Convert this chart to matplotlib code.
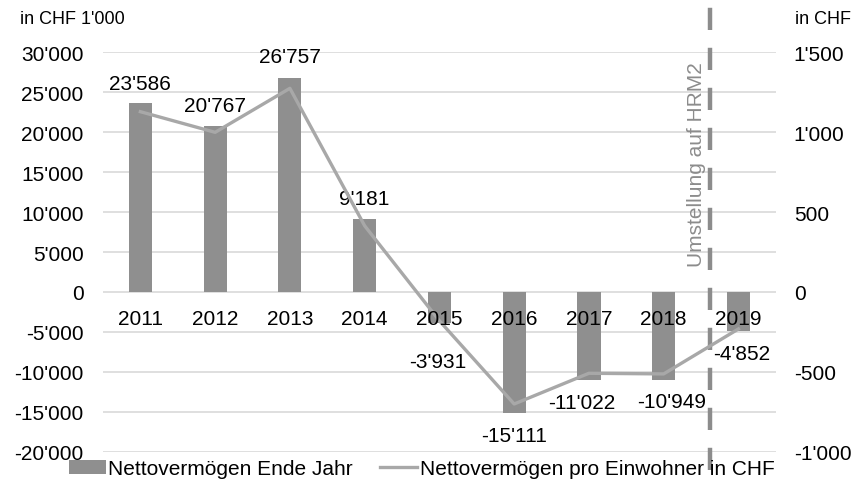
import matplotlib
matplotlib.use("Agg")
import matplotlib.pyplot as plt
import numpy as np

years = ["2011", "2012", "2013", "2014", "2015", "2016", "2017", "2018", "2019"]
vermoegen = [23586, 20767, 26757, 9181, -3931, -15111, -11022, -10949, -4852]
labels = ["23'586", "20'767", "26'757", "9'181", "-3'931", "-15'111", "-11'022", "-10'949", "-4'852"]
pro_einwohner = [1127, 998, 1273, 414, -180, -700, -508, -512, -231]
left_ticks = [-20000, -15000, -10000, -5000, 0, 5000, 10000, 15000, 20000, 25000, 30000]
left_ticklabels = ["-20'000", "-15'000", "-10'000", "-5'000", "0", "5'000", "10'000", "15'000", "20'000", "25'000", "30'000"]
right_ticks = [-1000, -500, 0, 500, 1000, 1500]
right_ticklabels = ["-1'000", "-500", "0", "500", "1'000", "1'500"]

plt.rcParams['font.family'] = ['Liberation Sans', 'DejaVu Sans']
FS = 15
BAR = '#8f8f8f'
LINE = '#a8a8a8'
GRID = '#d9d9d9'

fig = plt.figure(figsize=(8.62, 4.85), dpi=100)
ax = fig.add_axes([0.1195, 0.066, 0.7805, 0.8247])
x = np.arange(len(years))
bars = ax.bar(x, vermoegen, width=0.31, color=BAR, zorder=2, label='Nettovermögen Ende Jahr')
ax.set_xlim(-0.5, len(years) - 0.5)
ax.set_ylim(-20000, 30000)
ax.set_yticks(left_ticks)
ax.set_yticklabels(left_ticklabels, fontsize=FS)
ax.tick_params(axis='y', length=0, pad=14)
ax.grid(axis='y', color=GRID, linewidth=1.2, zorder=0)
ax.set_axisbelow(True)
for s in ax.spines.values():
    s.set_visible(False)
ax.set_xticks([])

ax2 = ax.twinx()
ax2.set_ylim(-1000, 1500)
ax2.set_yticks(right_ticks)
ax2.set_yticklabels(right_ticklabels, fontsize=FS)
ax2.tick_params(axis='y', length=0, pad=13)
ax2.set_xticks([])
for s in ax2.spines.values():
    s.set_visible(False)
line, = ax2.plot(x, pro_einwohner, color=LINE, linewidth=2.4, zorder=3,
                 label='Nettovermögen pro Einwohner in CHF')

# category labels at the zero line
for i, yr in enumerate(years):
    ax2.annotate(yr, (i, 0), xytext=(0, -27 * 0.72), textcoords='offset points',
                 ha='center', va='center', fontsize=FS, zorder=6)

# data labels (pixel offsets)
offsets = {0: (0, 20), 1: (0, 20), 2: (0, 21), 3: (0, 20),
           4: (-2, -38), 5: (0, -23), 6: (-7, -22), 7: (8, -22), 8: (3, -23)}
for i, (v, lab) in enumerate(zip(vermoegen, labels)):
    dx, dy = offsets[i]
    ax.annotate(lab, (i, v), xytext=(dx * 0.72, dy * 0.72), textcoords='offset points',
                ha='center', va='center', fontsize=FS, zorder=5)

# transition line
xd = 7.615
ax.plot([xd, xd], [-22200, 36500], color='#8c8c8c', linewidth=3.2,
        linestyle=(0, (5, 4)), clip_on=False, zorder=4)
ax.text(xd - 0.05, 16000, 'Umstellung auf HRM2', rotation=90, ha='right', va='center',
        fontsize=FS, color='#8c8c8c', zorder=4)

fig.text(20 / 862, 1 - 19 / 485, "in CHF 1'000", fontsize=13, ha='left', va='center')
fig.text(795 / 862, 1 - 19 / 485, "in CHF", fontsize=13, ha='left', va='center')

fig.legend(handles=[bars, line], loc='center', bbox_to_anchor=(0.489, 0.031), ncol=2,
           frameon=False, fontsize=FS, handlelength=1.8, handletextpad=0.1,
           columnspacing=1.3, borderpad=0, borderaxespad=0)

fig.savefig('out.png', dpi=100)
